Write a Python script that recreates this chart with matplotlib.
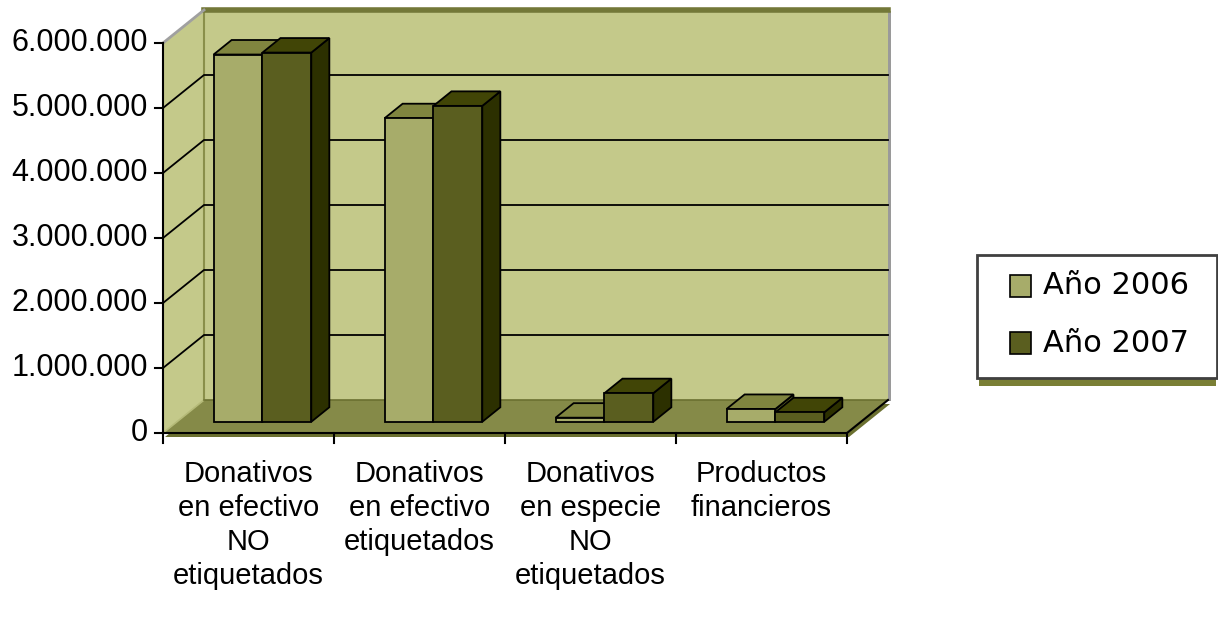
import matplotlib
matplotlib.use("Agg")
import matplotlib.pyplot as plt
from matplotlib.patches import Polygon
from matplotlib.transforms import IdentityTransform

# ---------------- data ----------------
categories = ["Donativos\nen efectivo\nNO\netiquetados",
              "Donativos\nen efectivo\netiquetados",
              "Donativos\nen especie\nNO\netiquetados",
              "Productos\nfinancieros"]
series_names = ["Año 2006", "Año 2007"]
values_2006 = [5650000, 4670000, 63000, 197000]
values_2007 = [5680000, 4860000, 440000, 146000]
y_ticks = [0, 1000000, 2000000, 3000000, 4000000, 5000000, 6000000]
y_tick_labels = ["0", "1.000.000", "2.000.000", "3.000.000", "4.000.000", "5.000.000", "6.000.000"]

# ---------------- style ----------------
W, H = 1218, 629
WALL = "#c4c98a"
FLOOR = "#858a48"
FLOOR_DARK = "#6b7030"
FRONT = ["#a7ac6a", "#5a5e1f"]
TOP = ["#80853f", "#414506"]
SIDE = ["#5d6225", "#2c3000"]
DX, DY = 41, 33          # full depth offset (pixels)
D0, D1 = 0.34, 0.78      # bar depth range
BW = 1 / 3.5             # bar width (gap width 150%)

fig = plt.figure(figsize=(W / 100, H / 100), dpi=100)
ax = fig.add_axes([163 / W, (H - 433) / H, (847 - 163) / W, (433 - 43) / H])
ax.set_xlim(0, len(categories))
ax.set_ylim(0, 6000000)
ax.axis("off")
ID = IdentityTransform()


def P(x, v, d=0.0):
    px, py = ax.transData.transform((x, v))
    return (px + DX * d, py + DY * d)


def img(x, y):
    return (x, H - y)


def poly(pts, fc, ec="none", lw=0, z=1):
    fig.patches.append(Polygon(pts, closed=True, facecolor=fc, edgecolor=ec,
                               linewidth=lw, transform=ID, zorder=z, joinstyle="miter"))


def line(pts, color="black", lw=1.3, z=3):
    xs = [p[0] for p in pts]
    ys = [p[1] for p in pts]
    fig.lines.append(plt.Line2D(xs, ys, color=color, linewidth=lw, transform=ID, zorder=z))


n = len(categories)
ymax = y_ticks[-1]

# back wall shadow (right) and wall
bw = [P(0, 0, 1), P(n, 0, 1), P(n, ymax, 1), P(0, ymax, 1)]
poly([(x + 3, y - 1) for x, y in bw], "#9a9a9a", z=0.5)
poly(bw, WALL, z=1)
# top band of back wall
line([P(0, ymax, 1), P(n, ymax, 1)], color="#737838", lw=4, z=2)
# left side wall
poly([P(0, 0, 0), P(0, 0, 1), P(0, ymax, 1), P(0, ymax, 0)], WALL, z=1)
line([P(0, 0, 1), P(0, ymax, 1)], color="#8a8f4a", lw=1.5, z=1.5)
line([P(0, ymax, 0), P(0, ymax, 1)], color="#a0a0a0", lw=2, z=2)

# floor with thickness
fl = [P(0, 0, 0), P(n, 0, 0), P(n, 0, 1), P(0, 0, 1)]
poly([(x + 2, y - 4) for x, y in fl], FLOOR_DARK, z=1.6)
poly(fl, FLOOR, z=1.7)
line([P(0, 0, 0), P(0, 0, 1)], color="#b5ba78", lw=1.2, z=1.8)
line([P(0, 0, 1), P(n, 0, 1)], color="#6b7030", lw=1.2, z=1.8)

# gridlines
for v in y_ticks[1:-1]:
    line([P(0, v, 0), P(0, v, 1), P(n, v, 1)], lw=1.3, z=2)

# axes
line([P(0, 0, 0), P(0, ymax, 0)], lw=1.5, z=6)
line([P(0, 0, 0), P(n, 0, 0), P(n, 0, 1)], lw=1.5, z=6)
for v, lab in zip(y_ticks, y_tick_labels):
    x0, y0 = P(0, v, 0)
    line([(x0 - 8, y0), (x0, y0)], lw=1.5, z=6)
    fig.text(x0 - 15, y0, lab, transform=ID, ha="right", va="center",
             fontsize=22, family="Liberation Sans", color="black")
for i in range(n + 1):
    x0, y0 = P(i, 0, 0)
    line([(x0, y0), (x0, y0 - 10)], lw=1.5, z=6)

# category labels
for i, cat in enumerate(categories):
    cx, cy = P(i + 0.5, 0, 0)
    for k, ln in enumerate(cat.split("\n")):
        fig.text(cx, H - (474 + 34 * k), ln, transform=ID, ha="center", va="center",
                 fontsize=21, family="Liberation Sans", color="black")

# bars
lw = 1.3
for i in range(n):
    for s, vals in enumerate([values_2006, values_2007]):
        v = vals[i]
        x0 = i + 0.75 * BW + s * BW
        x1 = x0 + BW
        z = 3 + i * 0.1 + s * 0.01
        front = [P(x0, 0, D0), P(x1, 0, D0), P(x1, v, D0), P(x0, v, D0)]
        top = [P(x0, v, D0), P(x1, v, D0), P(x1, v, D1), P(x0, v, D1)]
        side = [P(x1, 0, D0), P(x1, 0, D1), P(x1, v, D1), P(x1, v, D0)]
        poly(side, SIDE[s], "black", lw, z)
        poly(top, TOP[s], "black", lw, z)
        poly(front, FRONT[s], "black", lw, z)

# legend
lx0, ly0, lx1, ly1 = 977, 255, 1217, 378
poly([img(lx0 + 2, ly1), img(lx1 - 1, ly1), img(lx1 - 1, ly1 + 8), img(lx0 + 2, ly1 + 8)], "#7a7f35", z=7)
poly([img(lx0, ly0), img(lx1, ly0), img(lx1, ly1), img(lx0, ly1)], "white", "#404040", 2, z=8)
for k, name in enumerate(series_names):
    yc = 286 + 57 * k
    poly([img(1010, yc - 11), img(1031, yc - 11), img(1031, yc + 11), img(1010, yc + 11)],
         FRONT[k], "black", 1.2, z=9)
    fig.text(1043, H - yc, name, transform=ID, ha="left", va="center",
             fontsize=22, family="DejaVu Sans", color="black", zorder=9)

fig.savefig("out.png", dpi=100)
